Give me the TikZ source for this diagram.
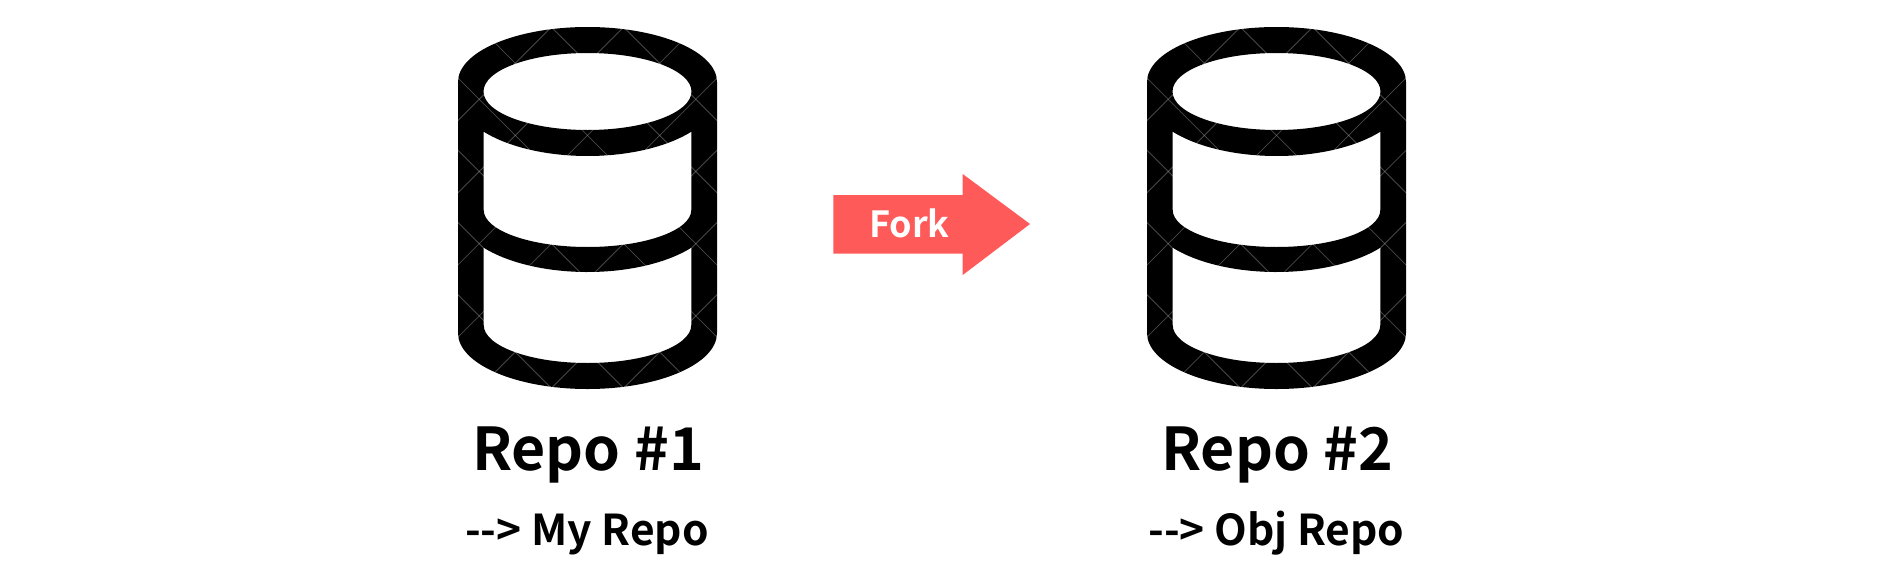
\documentclass[tikz,border=0pt]{standalone}
\usepackage{fontspec}
\setmainfont{Noto Sans CJK KR}[BoldFont={Noto Sans CJK KR Bold}]
\definecolor{forkred}{HTML}{FF5A5A}
\tikzset{
  x=1pt,y=-1pt,
  cylbody/.style={fill=black,even odd rule},
  lattice/.style={draw=white,draw opacity=0.28,line width=0.8pt},
  titletext/.style={font=\bfseries\fontsize{59}{59}\selectfont,anchor=base,inner sep=0pt,text=black},
  subtext/.style={font=\bfseries\fontsize{42.5}{42.5}\selectfont,anchor=base,inner sep=0pt,text=black},
  forktext/.style={font=\bfseries\fontsize{36}{36}\selectfont,anchor=base,inner sep=0pt,text=white},
  bandarc/.style={start angle=143.3,end angle=36.7,x radius=129.5,y radius=60.4},
  pics/dbicon/.style={code={
    \path[cylbody]
      (-129.5,82) arc[start angle=180,end angle=360,x radius=129.5,y radius=55]
      -- (129.5,333) arc[start angle=0,end angle=180,x radius=129.5,y radius=56] -- cycle
      (0,91.5) ellipse [x radius=104,y radius=38.5]
      (-103.8,131.7) arc[bandarc]
      -- (103.8,210) arc[start angle=0,end angle=180,x radius=103.8,y radius=37] -- cycle
      (-103.8,247.7) arc[bandarc]
      -- (103.8,325) arc[start angle=0,end angle=180,x radius=103.8,y radius=38] -- cycle;
    \begin{scope}
      \clip (-130,26) rectangle (130,390);
      \foreach \k in {-4,...,8}{
        \draw[lattice] (-200,63.2+\k*72.2+200) -- (200,63.2+\k*72.2-200);
        \draw[lattice] (-200,63.2+\k*72.2-200) -- (200,63.2+\k*72.2+200);
      }
    \end{scope}
  }}
}
\begin{document}
\begin{tikzpicture}
\useasboundingbox (0,0) rectangle (1892,573);
\fill[white] (0,0) rectangle (1892,573);
\pic (left) at (587.5,0) {dbicon};
\pic (right) at (1276.5,0) {dbicon};
\fill[forkred] (833.3,195) -- (962.7,195) -- (962.7,174) -- (1030,224) -- (962.7,275) -- (962.7,253.7) -- (833.3,253.7) -- cycle;
\node[forktext] (fork) at (909.5,237.5) {Fork};
\node[titletext] (repoa) at (588,470) {Repo \#1};
\node[subtext] (suba) at (587,545) {-{}-{}> My Repo};
\node[titletext] (repob) at (1277,470) {Repo \#2};
\node[subtext] (subb) at (1276.5,545) {-{}-{}> Obj Repo};
\end{tikzpicture}
\end{document}
